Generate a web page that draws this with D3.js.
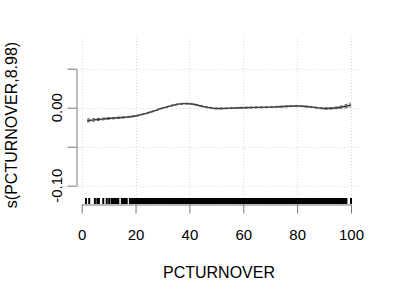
<!DOCTYPE html>
<html>
<head>
<meta charset="utf-8">
<script src="https://cdn.jsdelivr.net/npm/d3@7"></script>
<style>
  html, body { margin: 0; padding: 0; background: #fff; }
  text { font-family: "Liberation Sans", Arial, Helvetica, sans-serif; fill: #000; }
</style>
</head>
<body>
<svg id="chart" width="400" height="300"></svg>
<script>
// ---- data ----
const fitX  = [2, 5, 10, 15, 20, 25, 30, 35, 38, 41, 45, 50, 55, 60, 65, 70, 75, 80, 85, 90, 95, 100];
const fitY  = [-0.0165, -0.0155, -0.0138, -0.0126, -0.0106, -0.0062, -0.0006, 0.0040, 0.0052, 0.0048, 0.0016, -0.0010, -0.0006, 0.0000, 0.0004, 0.0008, 0.0015, 0.0022, 0.0010, -0.0010, 0.0000, 0.0035];
const fitSE = [0.0010, 0.0007, 0.0005, 0.0004, 0.0003, 0.0003, 0.0003, 0.0003, 0.0003, 0.0003, 0.0003, 0.0003, 0.0003, 0.0003, 0.0003, 0.0003, 0.0003, 0.0003, 0.0003, 0.0004, 0.0006, 0.0013];
const rugX = [1.6, 2.8, 4.9, 5.8, 6.4, 8.0, 9.3, 10.2, 11.1, 11.5, 11.9, 12.3, 12.7, 13.1, 13.6, 14.9, 15.3, 15.7, 16.1, 16.5, 16.7,
  17.9, 18.4, 18.9, 19.4, 19.9, 20.4, 20.9, 21.4, 21.9, 22.4, 22.9, 23.4, 23.9, 24.4, 24.9, 25.4, 25.9, 26.4, 26.9, 27.4, 27.9,
  28.4, 28.9, 29.4, 29.9, 30.4, 30.9, 31.4, 31.9, 32.4, 32.9, 33.4, 33.9, 34.4, 34.9, 35.4, 35.9, 36.4, 36.9, 37.4, 37.9,
  38.4, 38.9, 39.4, 39.9, 40.4, 40.9, 41.4, 41.9, 42.4, 42.9, 43.4, 43.9, 44.4, 44.9, 45.4, 45.9, 46.4, 46.9, 47.4, 47.9,
  48.4, 48.9, 49.4, 49.9, 50.4, 50.9, 51.4, 51.9, 52.4, 52.9, 53.4, 53.9, 54.4, 54.9, 55.4, 55.9, 56.4, 56.9, 57.4, 57.9,
  58.4, 58.9, 59.4, 59.9, 60.4, 60.9, 61.4, 61.9, 62.4, 62.9, 63.4, 63.9, 64.4, 64.9, 65.4, 65.9, 66.4, 66.9, 67.4, 67.9,
  68.4, 68.9, 69.4, 69.9, 70.4, 70.9, 71.4, 71.9, 72.4, 72.9, 73.4, 73.9, 74.4, 74.9, 75.4, 75.9, 76.4, 76.9, 77.4, 77.9,
  78.4, 78.9, 79.4, 79.9, 80.4, 80.9, 81.4, 81.9, 82.4, 82.9, 83.4, 83.9, 84.4, 84.9, 85.4, 85.9, 86.4, 86.9, 87.4, 87.9,
  88.4, 88.9, 89.4, 89.9, 90.4, 90.9, 91.4, 91.9, 92.4, 92.9, 93.4, 93.9, 94.4, 94.9, 95.4, 95.9, 96.4, 96.9, 97.4, 97.9,
  98.3, 100];
const xTicks = [0, 20, 40, 60, 80, 100];
const yTicks = [-0.10, -0.05, 0.00, 0.05];
const yTickLabels = ["-0.10", "", "0.00", ""];
const xTitle = "PCTURNOVER";
const yTitle = "s(PCTURNOVER,8.98)";

// ---- layout ----
const svg = d3.select("#chart");
const plot = { left: 77, right: 361, top: 38, bottom: 198 };
const x = d3.scaleLinear().domain([0, 100]).range([81.7, 351]);
const y = d3.scaleLinear().domain([-0.10, 0.05]).range([185.7, 68.7]);

// grid
const grid = svg.append("g").attr("stroke", "#d9d9d9").attr("stroke-dasharray", "1,2").attr("stroke-width", 1);
grid.selectAll("line.v").data(xTicks).join("line")
  .attr("x1", d => Math.round(x(d)) + 0.5).attr("x2", d => Math.round(x(d)) + 0.5)
  .attr("y1", plot.top).attr("y2", plot.bottom);
grid.selectAll("line.h").data(yTicks).join("line")
  .attr("y1", d => Math.round(y(d)) + 0.5).attr("y2", d => Math.round(y(d)) + 0.5)
  .attr("x1", plot.left).attr("x2", plot.right);

// confidence bands + fit
const pts = fitX.map((d, i) => ({ x: d, y: fitY[i], se: fitSE[i] }));
const line = d3.line().curve(d3.curveCatmullRom.alpha(0.5)).x(d => x(d.x));
svg.append("path").datum(pts)
  .attr("d", line.y(d => y(d.y)))
  .attr("fill", "none").attr("stroke", "#333").attr("stroke-width", 1.4);
svg.append("path").datum(pts)
  .attr("d", line.y(d => y(d.y + 2 * d.se)))
  .attr("fill", "none").attr("stroke", "#555").attr("stroke-width", 1).attr("stroke-dasharray", "3,2");
svg.append("path").datum(pts)
  .attr("d", line.y(d => y(d.y - 2 * d.se)))
  .attr("fill", "none").attr("stroke", "#555").attr("stroke-width", 1).attr("stroke-dasharray", "3,2");

// rug
svg.append("g").selectAll("line").data(rugX).join("line")
  .attr("x1", d => x(d)).attr("x2", d => x(d))
  .attr("y1", 198).attr("y2", 204)
  .attr("stroke", "#000").attr("stroke-width", 2);

// x axis
const xAxis = svg.append("g").attr("transform", "translate(0,204.5)")
  .call(d3.axisBottom(x).tickValues(xTicks).tickSize(9).tickSizeOuter(0).tickFormat(d3.format("d")));
xAxis.select(".domain").attr("stroke", "#777");
xAxis.selectAll(".tick line").attr("stroke", "#777");
xAxis.selectAll(".tick text").attr("font-size", 15).attr("y", 0).attr("dy", null)
  .attr("transform", "translate(0,35)").attr("fill", "#000");

// y axis
const yAxis = svg.append("g").attr("transform", "translate(76.5,0)")
  .call(d3.axisLeft(y).tickValues(yTicks).tickSize(9).tickSizeOuter(0).tickFormat(() => ""));
yAxis.select(".domain").attr("stroke", "#777");
yAxis.selectAll(".tick line").attr("stroke", "#777");
svg.append("g").selectAll("text").data(yTicks).join("text")
  .attr("transform", d => `translate(62,${y(d)}) rotate(-90)`)
  .attr("text-anchor", "middle").attr("font-size", 15)
  .text((d, i) => yTickLabels[i]);

// titles
svg.append("text").attr("x", 219).attr("y", 278).attr("text-anchor", "middle")
  .attr("font-size", 16).text(xTitle);
svg.append("text").attr("transform", "translate(17,125) rotate(-90)").attr("text-anchor", "middle")
  .attr("font-size", 16).text(yTitle);
</script>
</body>
</html>
